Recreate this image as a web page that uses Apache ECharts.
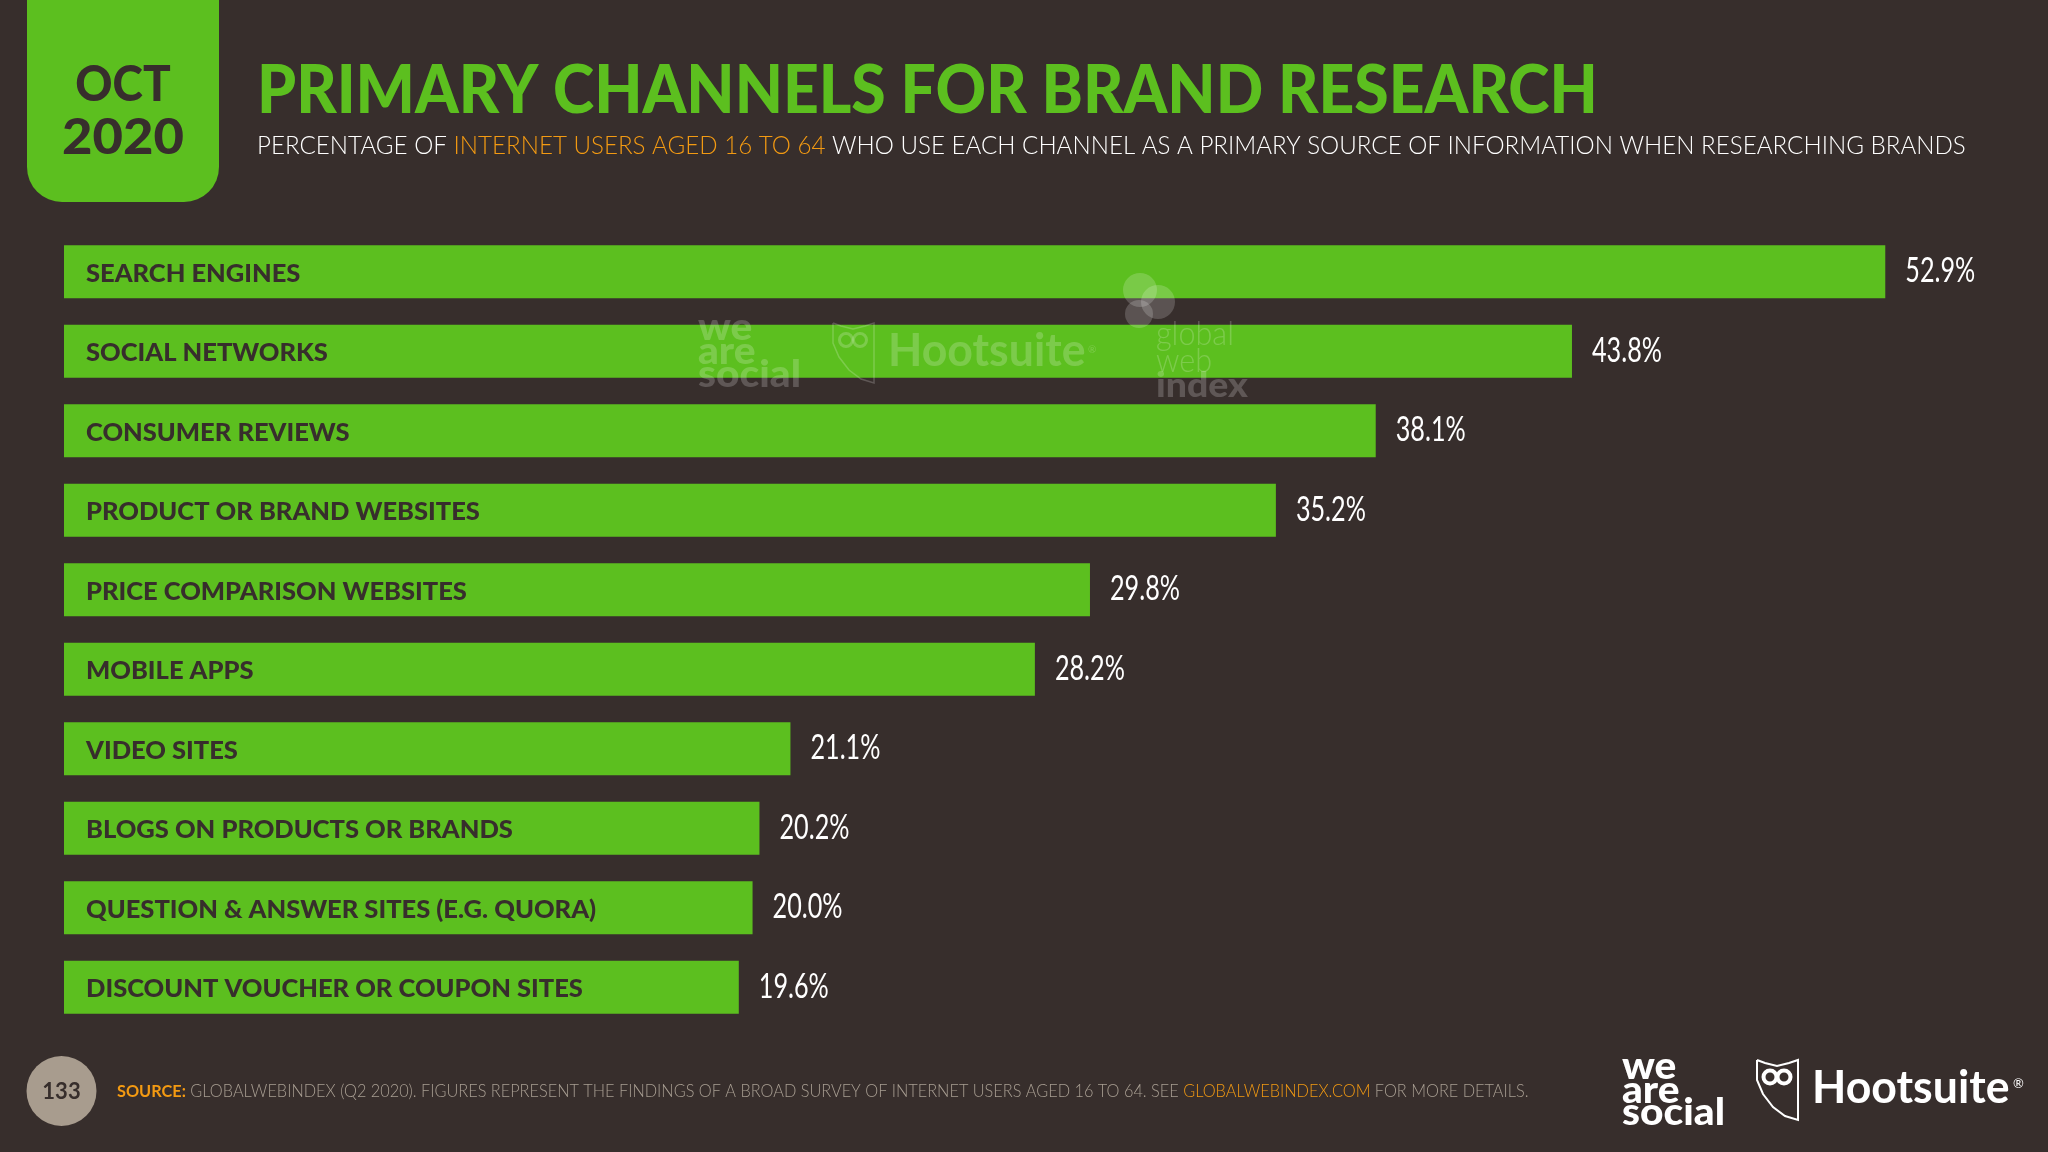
<!DOCTYPE html>
<html>
<head>
<meta charset="utf-8">
<style>
  html, body { margin: 0; padding: 0; background: #372e2c; }
  #chart { width: 2048px; height: 1152px; }
</style>
<script src="https://cdn.jsdelivr.net/npm/echarts@6/dist/echarts.min.js"></script>
</head>
<body>
<div id="chart"></div>
<script>
var categories = [
  'SEARCH ENGINES', 'SOCIAL NETWORKS', 'CONSUMER REVIEWS', 'PRODUCT OR BRAND WEBSITES',
  'PRICE COMPARISON WEBSITES', 'MOBILE APPS', 'VIDEO SITES', 'BLOGS ON PRODUCTS OR BRANDS',
  'QUESTION & ANSWER SITES (E.G. QUORA)', 'DISCOUNT VOUCHER OR COUPON SITES'
];
var values = [52.9, 43.8, 38.1, 35.2, 29.8, 28.2, 21.1, 20.2, 20.0, 19.6];

var BG = '#372e2c', GREEN = '#5cbf1f', ORANGE = '#f39a12', GREY = '#a89e92';
var FONT = 'Lato';

function owl(x, y, color, width) {
  // shield outline and eyes
  var pts = [[0, 0], [8, 3], [20, 6], [32, 3], [41, 0], [41, 60], [28, 56], [16, 47], [6, 34], [0, 20], [0, 0]];
  var items = [{
    type: 'polyline', z: 50, x: x, y: y,
    shape: { points: pts },
    style: { fill: 'none', stroke: color, lineWidth: width }
  }];
  [13, 27].forEach(function (cx) {
    items.push({
      type: 'circle', z: 50, x: x, y: y,
      shape: { cx: cx, cy: 17, r: 6.5 },
      style: { fill: 'none', stroke: color, lineWidth: width * 2 }
    });
  });
  return items;
}

function txt(x, y, text, size, weight, color, opts) {
  opts = opts || {};
  return {
    type: 'text', z: 50, x: x, y: y, scaleX: opts.sx || 1,
    style: {
      text: text, fill: color, font: weight + ' ' + size + 'px ' + FONT,
      textAlign: opts.align || 'left', textVerticalAlign: 'middle', rich: opts.rich
    }
  };
}

var WM = 'rgba(255,255,255,0.2)';
var subtitle = 'PERCENTAGE OF {o|INTERNET USERS AGED 16 TO 64} WHO USE EACH CHANNEL AS A PRIMARY SOURCE OF INFORMATION WHEN RESEARCHING BRANDS';
var source = '{s|SOURCE:} GLOBALWEBINDEX (Q2 2020). FIGURES REPRESENT THE FINDINGS OF A BROAD SURVEY OF INTERNET USERS AGED 16 TO 64. SEE {o|GLOBALWEBINDEX.COM} FOR MORE DETAILS.';

var graphics = [
  { type: 'rect', z: 1, shape: { x: 27, y: -40, width: 192, height: 242, r: 35 }, style: { fill: GREEN } },
  txt(123, 85, 'OCT', 50, 900, BG, { align: 'center', sx: 0.92 }),
  txt(123, 138, '2020', 50, 900, BG, { align: 'center', sx: 1.05 }),
  txt(257, 92, 'PRIMARY CHANNELS FOR BRAND RESEARCH', 66, 900, GREEN, { sx: 0.946 }),
  txt(257, 146, subtitle, 25, 300, '#fff', {
    sx: 0.966,
    rich: { o: { fill: ORANGE, font: '300 25px ' + FONT } }
  }),
  txt(117, 1092, source, 17, 300, GREY, {
    sx: 0.959,
    rich: {
      s: { fill: ORANGE, font: '700 17px ' + FONT },
      o: { fill: ORANGE, font: '300 17px ' + FONT }
    }
  }),
  // page number
  { type: 'circle', z: 1, shape: { cx: 61.5, cy: 1091, r: 35 }, style: { fill: '#a89c8e' } },
  txt(61.5, 1092, '133', 22, 700, BG, { align: 'center' }),
  // logos bottom right
  txt(1622, 1067, 'we', 37, 900, '#fff', { sx: 1.1 }),
  txt(1622, 1091, 'are', 37, 900, '#fff', { sx: 1.1 }),
  txt(1622, 1113, 'social', 37, 900, '#fff', { sx: 1.1 }),
  txt(1812, 1088, 'Hootsuite', 46, 700, '#fff', { sx: 0.97 }),
  txt(2013, 1084, '®', 13, 400, '#fff'),
  // watermarks across the bars
  txt(698, 328, 'we', 37, 900, WM, { sx: 1.1 }),
  txt(698, 352, 'are', 37, 900, WM, { sx: 1.1 }),
  txt(698, 375, 'social', 37, 900, WM, { sx: 1.1 }),
  txt(888, 351, 'Hootsuite', 46, 700, WM, { sx: 0.97 }),
  txt(1088, 350, '®', 10, 400, WM),
  { type: 'circle', z: 50, shape: { cx: 1140, cy: 290, r: 17 }, style: { fill: 'rgba(255,255,255,0.18)' } },
  { type: 'circle', z: 50, shape: { cx: 1158, cy: 302, r: 17 }, style: { fill: 'rgba(255,255,255,0.18)' } },
  { type: 'circle', z: 50, shape: { cx: 1139, cy: 314, r: 14 }, style: { fill: 'rgba(255,255,255,0.18)' } },
  txt(1156, 334, 'global', 34, 300, WM, { sx: 0.9 }),
  txt(1156, 361, 'web', 34, 300, WM, { sx: 0.9 }),
  txt(1156, 386, 'index', 34, 900, WM, { sx: 1.1 })
].concat(owl(1757, 1060, '#fff', 2), owl(833, 323, WM, 1.5));

// value labels need a narrow face, Lato squeezed sideways is the nearest we have
function renderValue(params, api) {
  var pos = api.coord([api.value(0), api.value(1)]);
  return {
    type: 'text', x: pos[0] + 20, y: pos[1] - 1, scaleX: 0.72,
    style: {
      text: api.value(0).toFixed(1) + '%', fill: '#fff', font: '400 35px ' + FONT,
      textAlign: 'left', textVerticalAlign: 'middle'
    }
  };
}

var chart = echarts.init(document.getElementById('chart'));
chart.setOption({
  backgroundColor: BG,
  animation: false,
  grid: { left: 64, top: 232, width: 1928, height: 795 },
  xAxis: { type: 'value', min: 0, max: 56, show: false },
  yAxis: { type: 'category', data: categories, inverse: true, show: false },
  series: [{
    type: 'bar',
    data: values,
    barWidth: 53,
    itemStyle: { color: GREEN },
    label: {
      show: true, position: 'insideLeft', distance: 22, offset: [0, 2],
      formatter: '{b}', color: BG,
      fontFamily: FONT, fontWeight: 900, fontSize: 25.5
    }
  }, {
    type: 'custom',
    data: values.map(function (v, i) { return [v, i]; }),
    encode: { x: 0, y: 1 },
    renderItem: renderValue,
    z: 5
  }],
  graphic: graphics
});
</script>
</body>
</html>
